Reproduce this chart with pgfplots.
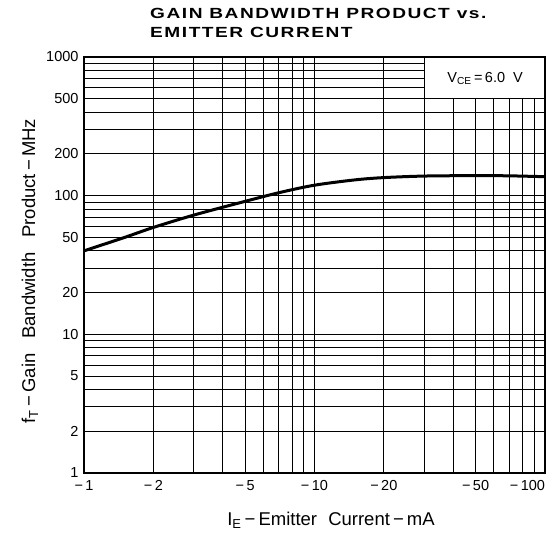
\documentclass[border=0pt]{standalone}
\usepackage{pgfplots}
\pgfplotsset{compat=1.18}
\usepackage{fontspec}
\setmainfont{Liberation Sans}
\newfontfamily\titlefont[LetterSpace=8]{Liberation Sans Bold}
\begin{document}
\begin{tikzpicture}[x=1pt,y=1pt]
\useasboundingbox (0,0) rectangle (560,533);
\begin{axis}[
  at={(84pt,60pt)}, anchor=south west,
  scale only axis, width=461pt, height=416pt,
  xmode=log, ymode=log, xmin=1, xmax=100, ymin=1, ymax=1000,
  xtick={1,2,5,10,20,50,100},
  xticklabels={−\,1,−\,2,−\,5,−\,10,−\,20,−\,50,\makebox[0pt][r]{−\,100}\hspace{3pt}},
  ytick={1,2,5,10,20,50,100,200,500,1000},
  yticklabels={1,2,5,10,20,50,100,200,500,1000},
  minor xtick={3,4,6,7,8,9,30,40,60,70,80,90},
  minor ytick={3,4,6,7,8,9,30,40,60,70,80,90,300,400,600,700,800,900},
  grid=both,
  major grid style={black, line width=1pt},
  minor grid style={black, line width=1pt},
  major tick length=0pt, minor tick length=0pt,
  axis line style={line width=1.6pt},
  tick label style={font=\fontsize{14.5}{15}\selectfont},
  xticklabel style={yshift=-4pt},
  yticklabel style={xshift=-2pt},
]
\addplot[black, line width=3pt, smooth] coordinates {
 (1,40) (1.5,50) (2,59) (3,72.5) (5,91) (7,105) (10,119) (15,130) (20,135) (30,138.5) (50,139.5) (70,139) (100,137)
};
\draw[black, line width=1pt, fill=white] (axis cs:30,500) rectangle (axis cs:100,1000);
\node[font=\fontsize{14.5}{15}\selectfont] at (axis cs:55,700) {V\textsubscript{CE}\,=\,6.0\ \ V};
\draw[line width=1.6pt] (rel axis cs:0,0) rectangle (rel axis cs:1,1);
\end{axis}
\node[anchor=base west, inner sep=0pt] at (150,514.5) {\scalebox{1.3}[1]{\titlefont\fontsize{14.7}{19}\selectfont GAIN BANDWIDTH PRODUCT vs.}};
\node[anchor=base west, inner sep=0pt] at (150,495.3) {\scalebox{1.3}[1]{\titlefont\fontsize{14.7}{19}\selectfont EMITTER CURRENT}};
\node[font=\fontsize{18.5}{20}\selectfont] at (331,13) {I\textsubscript{E}\,−\,Emitter\hspace{0.6em}Current\,−\,mA};
\node[rotate=90, font=\fontsize{18.5}{20}\selectfont] at (30,262) {f\textsubscript{T}\,−\,Gain\hspace{0.8em}Bandwidth\hspace{0.8em}Product\,−\,MHz};
\end{tikzpicture}
\end{document}
